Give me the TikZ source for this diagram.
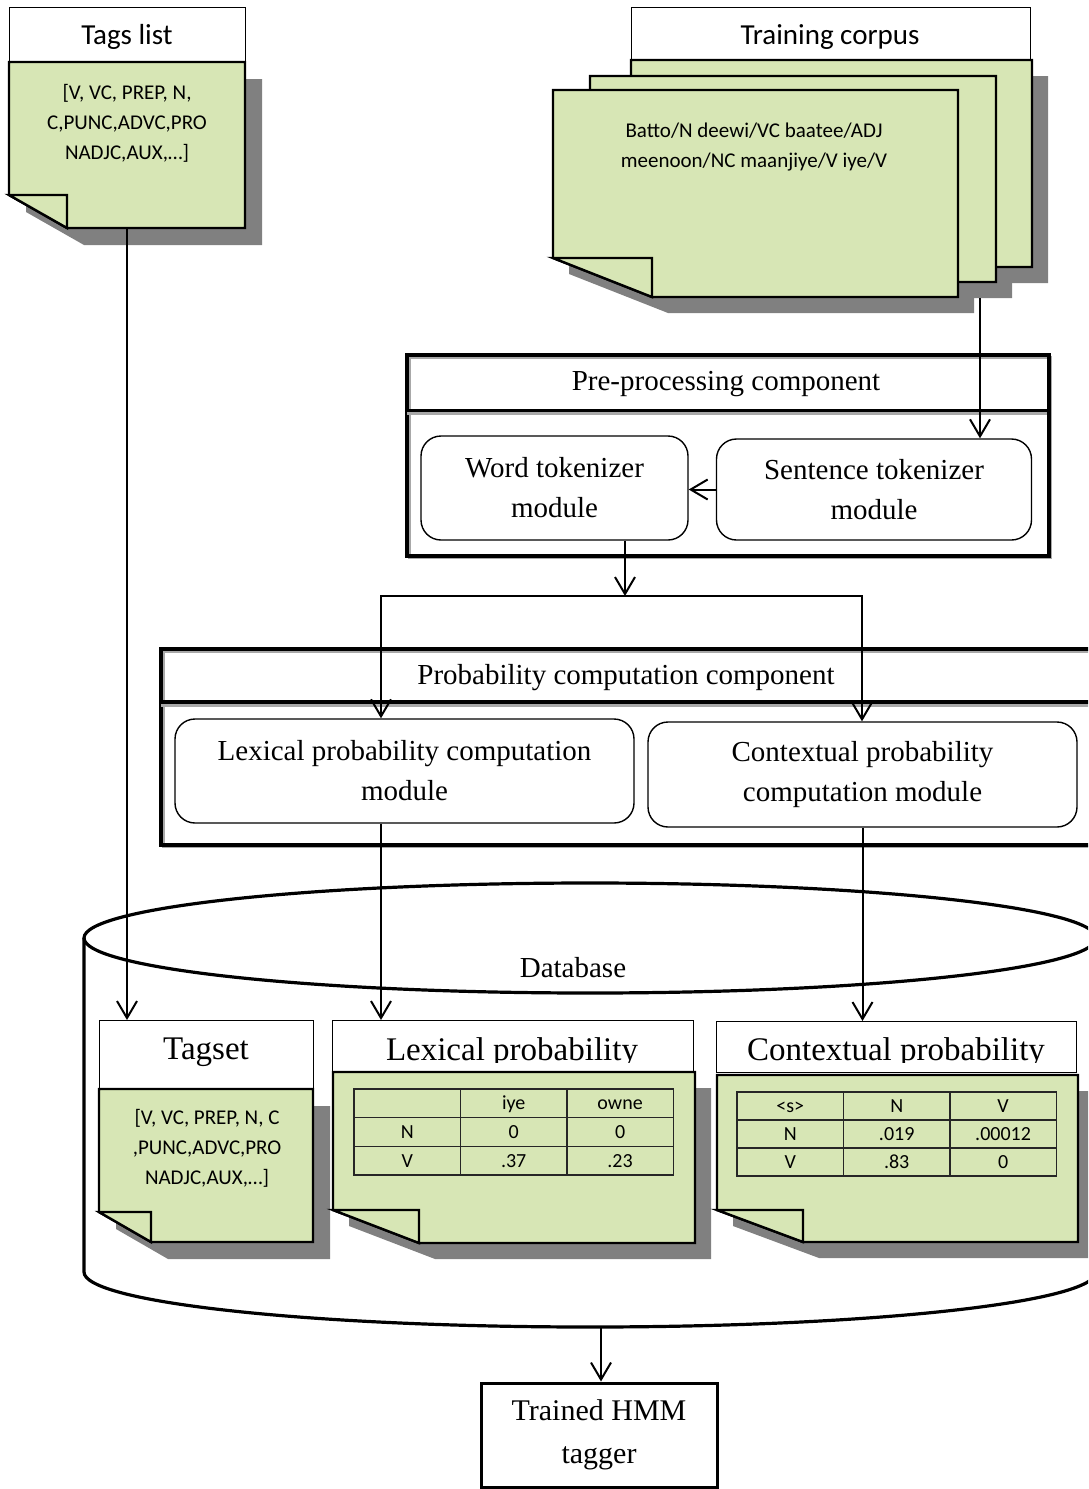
\documentclass[tikz,border=0pt]{standalone}
\usepackage{fontspec}
\setmainfont{Liberation Serif}
\newfontfamily\calib{Carlito}
\usetikzlibrary{arrows.meta,matrix}

\definecolor{notegreen}{HTML}{D7E6B5}
\definecolor{shadowgrey}{HTML}{808080}
\definecolor{boxshade}{HTML}{A8A8A8}

\newcommand\serifbody{\fontsize{29}{40}\selectfont}
\newcommand\hmmfont{\fontsize{30}{43}\selectfont}
\newcommand\dbtitlefont{\fontsize{33}{40}\selectfont}
\newcommand\notefont{\calib\fontsize{21}{30}\selectfont}
\newcommand\titlefont{\calib\fontsize{29}{35}\selectfont}
\newcommand\cellfont{\calib\fontsize{20}{24}\selectfont}

% outline of a sheet with a folded bottom-left corner:
% x0 y0 x1 y1 foldx foldy
\newcommand\notepoly[6]{(#1,#2) -- (#3,#2) -- (#3,#4) -- (#5,#4) -- (#1,#6) -- cycle}
\newcommand\notefold[4]{(#1,#4) -- (#3,#4) -- (#3,#2) -- cycle}

\tikzset{
  conn/.style={line width=2pt, -{Straight Barb[length=17pt,width=20pt]}},
  plainline/.style={line width=2pt},
  paper/.style={fill=notegreen, draw=black, line width=2.4pt, line join=miter},
  papershade/.style={fill=shadowgrey},
  tabtitle/.style={draw=black, line width=1.1pt, fill=white, inner sep=0pt},
  bodyarea/.style={inner sep=0pt, outer sep=0pt},
  module/.style={draw=black, line width=1.4pt, rounded corners=20pt, align=center,
    inner sep=0pt, font=\serifbody},
  component/.style={draw=black, line width=3.8pt, inner sep=0pt},
  cell/.style={draw=black!85, line width=1.4pt, inner sep=0pt, outer sep=0pt,
    font=\cellfont, text height=13pt, text depth=0pt},
  probtable/.style={matrix of nodes, nodes in empty cells, anchor=north west,
    inner sep=0pt, outer sep=0pt, column sep=-1.4pt, row sep=-1.4pt},
  dbline/.style={line width=3.2pt}
}

\begin{document}
\begin{tikzpicture}[x=1pt,y=-1pt]
\useasboundingbox (0,0) rectangle (1088,1489);
\clip (0,0) rectangle (1088,1489);

% ---------- Tags list ----------
\node[tabtitle, minimum width=236pt, minimum height=55pt, anchor=north west]
  (tagstitle) at (9,7) {};
\node[font=\titlefont] (tagstitletext) at (127,37) {Tags list};
\begin{scope}[shift={(17,17)}]
  \fill[papershade] \notepoly{9}{62}{245}{228}{67}{195};
\end{scope}
\filldraw[paper] \notepoly{9}{62}{245}{228}{67}{195};
\filldraw[paper] \notefold{9}{228}{67}{195};
\node[bodyarea, minimum width=236pt, minimum height=166pt, anchor=north west]
  (tagsnote) at (9,62) {};
\node[font=\notefont, align=center] (tagstext) at (127,123)
  {[V, VC, PREP, N,\\C,PUNC,ADVC,PRO\\NADJC,AUX,…]};

% ---------- Training corpus ----------
\node[tabtitle, minimum width=399pt, minimum height=53pt, anchor=north west]
  (corptitle) at (631,7) {};
\node[font=\titlefont] (corptitletext) at (830,37) {Training corpus};
\begin{scope}[shift={(16,16)}]
  \fill[papershade] \notepoly{631}{60}{1032}{267}{730}{227};
  \fill[papershade] \notepoly{590}{76}{996}{282}{689}{242};
  \fill[papershade] \notepoly{553}{90}{958}{297}{652}{258};
\end{scope}
\filldraw[paper] \notepoly{631}{60}{1032}{267}{730}{227};
\filldraw[paper] \notepoly{590}{76}{996}{282}{689}{242};
\filldraw[paper] \notepoly{553}{90}{958}{297}{652}{258};
\filldraw[paper] \notefold{553}{297}{652}{258};
\node[bodyarea, minimum width=405pt, minimum height=207pt, anchor=north west]
  (corpfront) at (553,90) {};
\node[font=\notefont, align=center] (corptext) at (754,147)
  {Batto/N deewi/VC baatee/ADJ\\meenoon/NC maanjiye/V iye/V};
\coordinate (corpusout) at (980,298);

% ---------- Pre-processing component ----------
\draw[boxshade, line width=3pt] (409,357) rectangle (1050,557);
\node[component, minimum width=642pt, minimum height=201pt, anchor=north west]
  (prepro) at (405,353) {};
\node[inner sep=0pt, minimum width=642pt, minimum height=57pt, anchor=north west]
  (preprotitle) at (405,353) {};
\node[font=\serifbody] (preprotitletext) at (726,384) {Pre-processing component};
\draw[boxshade, line width=2.5pt] (407,413.5) -- (1047,413.5);
\draw[line width=3.8pt] (preprotitle.south west) -- (preprotitle.south east);
\node[module, minimum width=267pt, minimum height=104pt] (word) at (554.5,488)
  {Word tokenizer\\module};
\node[module, minimum width=315pt, minimum height=101pt] (sent) at (874,489.5)
  {Sentence tokenizer\\module};

% ---------- Probability computation component ----------
\draw[boxshade, line width=3pt] (163,651) rectangle (1100,846);
\node[component, minimum width=940pt, minimum height=196pt, anchor=north west]
  (probcomp) at (159,647) {};
\node[font=\serifbody] (probtitletext) at (626,678) {Probability computation component};
\draw[boxshade, line width=2.5pt] (161,705.5) -- (1100,705.5);
\draw[line width=3.8pt] (159,702) -- (1100,702);
\node[module, minimum width=459pt, minimum height=104pt] (lexmod) at (404.5,771)
  {Lexical probability computation\\module};
\node[module, minimum width=429pt, minimum height=105pt] (contmod) at (862.5,774.5)
  {Contextual probability\\computation module};

% ---------- Database ----------
\draw[dbline] (590,938) ellipse [x radius=506pt, y radius=55pt];
\draw[dbline] (84,938) -- (84,1272)
  arc[start angle=180, end angle=360, x radius=506pt, y radius=55pt] -- (1096,938);
\node[font=\serifbody] (dblabel) at (573,968) {Database};
\coordinate (dbbottom) at (601,1327);

% Tagset sheet
\node[tabtitle, minimum width=214pt, minimum height=69pt, anchor=north west]
  (tagsettitle) at (99,1020) {};
\node[font=\dbtitlefont, anchor=base] (tagsettitletext) at (206,1059) {Tagset};
\begin{scope}[shift={(17,17)}]
  \fill[papershade] \notepoly{99}{1089}{313}{1242}{151}{1212};
\end{scope}
\filldraw[paper] \notepoly{99}{1089}{313}{1242}{151}{1212};
\filldraw[paper] \notefold{99}{1242}{151}{1212};
\node[font=\notefont, align=center] (tagsettext) at (207,1148)
  {[V, VC, PREP, N, C\\,PUNC,ADVC,PRO\\NADJC,AUX,…]};

% Lexical probability sheet
\node[tabtitle, minimum width=361pt, minimum height=52pt, anchor=north west]
  (lexttl) at (332,1020) {};
\begin{scope}
  \clip (332,1020) rectangle (693,1062);
  \node[font=\dbtitlefont, anchor=base] (lexttltext) at (512,1060) {Lexical probability};
\end{scope}
\begin{scope}[shift={(16,16)}]
  \fill[papershade] \notepoly{333}{1072}{695}{1243}{419}{1210};
\end{scope}
\filldraw[paper] \notepoly{333}{1072}{695}{1243}{419}{1210};
\filldraw[paper] \notefold{333}{1243}{419}{1210};
\matrix (lextab) [probtable, nodes={cell, minimum width=106.4pt, minimum height=28.6pt}]
  at (353.4,1088.4) {
     & iye & owne \\
    N & 0 & 0 \\
    V & .37 & .23 \\
  };

% Contextual probability sheet
\node[tabtitle, minimum width=360pt, minimum height=51pt, anchor=north west]
  (contttl) at (716,1021) {};
\begin{scope}
  \clip (716,1021) rectangle (1076,1062);
  \node[font=\dbtitlefont, anchor=base] (contttltext) at (896,1060) {Contextual probability};
\end{scope}
\begin{scope}[shift={(16,16)}]
  \fill[papershade] \notepoly{717}{1075}{1078}{1242}{803}{1210};
\end{scope}
\filldraw[paper] \notepoly{717}{1075}{1078}{1242}{803}{1210};
\filldraw[paper] \notefold{717}{1242}{803}{1210};
\matrix (conttab) [probtable, nodes={cell, minimum width=106.4pt, minimum height=28pt}]
  at (736.4,1091.4) {
    <s> & N & V \\
    N & .019 & .00012 \\
    V & .83 & 0 \\
  };

% ---------- Trained tagger ----------
\node[draw, line width=3pt, minimum width=236pt, minimum height=104pt, align=center,
  font=\hmmfont] (hmm) at (599,1435) {Trained HMM\\tagger};

% ---------- Connectors ----------
\coordinate (fork) at (625,596);
\coordinate (lexin) at (381,596);
\coordinate (contin) at (862,596);
\draw[conn] (tagsnote.south) -- (tagsnote.south |- tagsettitle.north);
\draw[conn] (corpusout) -- (corpusout |- sent.north);
\draw[conn] (sent.west) -- (sent.west -| word.east);
\draw[conn] (word.south -| fork) -- (fork);
\draw[plainline, line cap=rect] (lexin) -- (contin);
\draw[conn] (lexin) -- (lexin |- lexmod.north);
\draw[conn] (contin) -- (contin |- contmod.north);
\draw[conn] (lexmod.south -| lexin) -- (lexin |- lexttl.north);
\draw[conn] (contmod.south) -- (contmod.south |- contttl.north);
\draw[conn] (dbbottom) -- (dbbottom |- hmm.north);
\end{tikzpicture}
\end{document}
